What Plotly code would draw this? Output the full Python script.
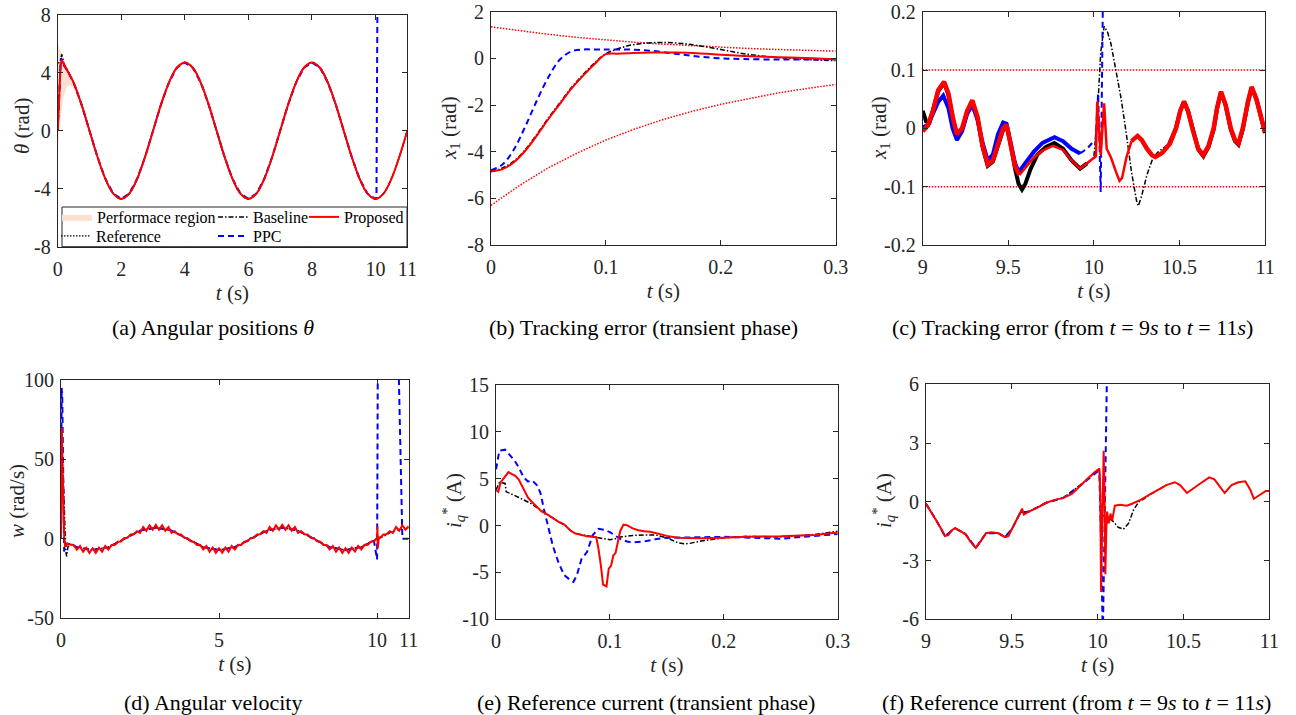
import numpy as np
import plotly.graph_objects as go

W, H = 1296, 715
FONT = "Liberation Serif, Times New Roman, Times, serif"
AXC = "#262626"
RED, BLUE, BLACK = "#ff0000", "#0000ff", "#000000"
FILL = "#fbe0d2"
DASH_BASE = "5px,2px,1.5px,2px"
DASH_PPC = "6px,4px"
DOT = "1.5px,1.5px"

# ---------------- (a) angular position theta (rad) ----------------
theta_main_t = [0.5 + 0.25 * i for i in range(43)]
theta_main = [3.32, 1.80, 0.00, -1.80, -3.32, -4.34, -4.70, -4.34, -3.32, -1.80,
              0.00, 1.80, 3.32, 4.34, 4.70, 4.34, 3.32, 1.80, 0.00, -1.80,
              -3.32, -4.34, -4.70, -4.34, -3.32, -1.80, 0.00, 1.80, 3.32, 4.34,
              4.70, 4.34, 3.32, 1.80, 0.00, -1.80, -3.32, -4.34, -4.70, -4.34,
              -3.32, -1.80, 0.00]
ref_a_t0 = [0, 0.1, 0.2, 0.3]
ref_a_0 = [4.70, 4.64, 4.47, 4.19]
early_a_t = [0, 0.05, 0.1, 0.13, 0.2, 0.3]
prop_a_0 = [0, 2.4, 4.6, 4.85, 4.55, 4.15]
base_a_0 = [0, 2.6, 4.9, 5.25, 4.6, 4.18]
ppc_a_0 = [0, 3.0, 5.0, 4.85, 4.5, 4.15]
ppc_a_end_t = [10.03, 10.06]
ppc_a_end = [-4.6, 9.0]
band_t = [0, 0.05, 0.1, 0.15, 0.2, 0.3, 0.4, 0.5, 0.7, 1.0]
band_hi = [6.05, 5.71, 5.43, 5.18, 4.95, 4.49, 4.02, 3.49, 2.25, 0.10]
band_lo = [-1.60, 0.00, 1.14, 1.95, 2.50, 3.07, 3.14, 2.91, 1.94, -0.12]

# ---------------- (b) tracking error, transient ----------------
bound_t = [0, 0.025, 0.05, 0.075, 0.1, 0.125, 0.15, 0.175, 0.2, 0.225, 0.25, 0.275, 0.3]
bound_hi = [1.35, 1.18, 1.03, 0.90, 0.79, 0.69, 0.61, 0.54, 0.48, 0.42, 0.38, 0.34, 0.31]
bound_lo = [-6.30, -5.44, -4.69, -4.06, -3.50, -3.03, -2.62, -2.27, -1.97, -1.71, -1.48, -1.29, -1.12]
prop_b_t = [0, 0.01, 0.02, 0.03, 0.04, 0.05, 0.06, 0.07, 0.08, 0.09,
            0.1, 0.11, 0.12, 0.14, 0.16, 0.18, 0.2, 0.22, 0.25, 0.28, 0.3]
prop_b = [-4.85, -4.75, -4.45, -3.95, -3.3, -2.6, -1.95, -1.3, -0.75, -0.25,
          0.18, 0.2, 0.22, 0.25, 0.25, 0.22, 0.15, 0.1, 0.05, 0.0, -0.05]
base_b_t = [0, 0.01, 0.02, 0.03, 0.04, 0.05, 0.06, 0.07, 0.08, 0.09,
            0.1, 0.11, 0.12, 0.13, 0.14, 0.15, 0.16, 0.17, 0.18, 0.2,
            0.22, 0.24, 0.26, 0.28, 0.3]
base_b = [-4.85, -4.7, -4.4, -3.9, -3.25, -2.55, -1.9, -1.25, -0.7, -0.2,
          0.2, 0.4, 0.55, 0.63, 0.67, 0.68, 0.66, 0.62, 0.55, 0.38,
          0.2, 0.08, 0.0, -0.06, -0.1]
ppc_b_t = [0, 0.01, 0.02, 0.03, 0.04, 0.05, 0.06, 0.07, 0.08, 0.09,
           0.1, 0.12, 0.14, 0.16, 0.18, 0.2, 0.22, 0.25, 0.28, 0.3]
ppc_b = [-4.8, -4.55, -3.9, -2.9, -1.8, -0.8, -0.05, 0.3, 0.38, 0.38,
         0.38, 0.38, 0.32, 0.2, 0.08, 0.0, -0.03, -0.05, -0.05, -0.05]

# ---------------- (c) tracking error 9..11 s ----------------
bound_c_t = [9, 11]
bound_c_hi = [0.1, 0.1]
bound_c_lo = [-0.1, -0.1]
prop_c_t = [9.0, 9.03, 9.06, 9.09, 9.125, 9.15, 9.175, 9.2, 9.23, 9.26,
            9.29, 9.32, 9.35, 9.38, 9.41, 9.44, 9.47, 9.49, 9.51, 9.54,
            9.565, 9.6, 9.65, 9.7, 9.76, 9.82, 9.87, 9.92, 9.96, 10.0,
            10.012, 10.02, 10.03, 10.04, 10.05, 10.06, 10.075, 10.1, 10.13, 10.15,
            10.165, 10.19, 10.22, 10.255, 10.28, 10.31, 10.34, 10.36, 10.4, 10.445,
            10.48, 10.505, 10.527, 10.55, 10.58, 10.61, 10.64, 10.67, 10.7, 10.72,
            10.743, 10.77, 10.8, 10.825, 10.845, 10.87, 10.9, 10.922, 10.95, 10.98,
            11.0]
prop_c = [-0.005, 0.005, 0.03, 0.065, 0.08, 0.06, 0.02, -0.01, 0.0, 0.03,
          0.048, 0.02, -0.03, -0.062, -0.055, -0.025, 0.0, 0.006, -0.02, -0.065,
          -0.08, -0.068, -0.05, -0.038, -0.03, -0.037, -0.055, -0.069, -0.06, -0.05,
          -0.048, 0.046, 0.0, -0.046, 0.0, 0.043, -0.035, -0.05, -0.075, -0.09,
          -0.085, -0.05, -0.022, -0.013, -0.02, -0.035, -0.046, -0.049, -0.042, -0.026,
          0.0, 0.03, 0.046, 0.03, -0.005, -0.035, -0.046, -0.03, 0.0, 0.035,
          0.063, 0.04, 0.0, -0.02, -0.026, 0.0, 0.045, 0.071, 0.05, 0.015,
          -0.006]
base_c_t = [9.0, 9.02, 9.04, 9.06, 9.09, 9.125, 9.15, 9.175, 9.2, 9.23,
            9.26, 9.29, 9.32, 9.35, 9.38, 9.41, 9.44, 9.47, 9.49, 9.51,
            9.54, 9.56, 9.58, 9.6, 9.63, 9.67, 9.72, 9.77, 9.82, 9.87,
            9.92, 9.96, 10.0, 10.02, 10.04, 10.06, 10.08, 10.1, 10.13, 10.16,
            10.19, 10.22, 10.25, 10.26, 10.28, 10.31, 10.34, 10.37, 10.4, 10.44,
            10.48, 10.505, 10.527, 10.55, 10.58, 10.61, 10.64, 10.67, 10.7, 10.72,
            10.743, 10.77, 10.8, 10.825, 10.845, 10.87, 10.9, 10.922, 10.95, 10.98,
            11.0]
base_c = [0.03, 0.012, 0.01, 0.03, 0.063, 0.078, 0.058, 0.018, -0.012, -0.002,
          0.028, 0.046, 0.018, -0.032, -0.064, -0.057, -0.027, -0.002, 0.004, -0.022,
          -0.07, -0.095, -0.105, -0.095, -0.07, -0.045, -0.032, -0.025, -0.035, -0.055,
          -0.069, -0.06, -0.05, 0.02, 0.13, 0.175, 0.165, 0.145, 0.1, 0.05,
          -0.01, -0.075, -0.125, -0.133, -0.115, -0.08, -0.055, -0.042, -0.035, -0.027,
          0.0, 0.03, 0.046, 0.03, -0.005, -0.036, -0.048, -0.032, -0.002, 0.034,
          0.062, 0.04, -0.002, -0.022, -0.028, -0.002, 0.044, 0.07, 0.05, 0.014,
          -0.008]
ppc_c_t = [9.0, 9.03, 9.06, 9.09, 9.12, 9.15, 9.175, 9.2, 9.23, 9.26,
           9.29, 9.32, 9.35, 9.38, 9.41, 9.44, 9.47, 9.49, 9.51, 9.54,
           9.56, 9.6, 9.65, 9.7, 9.77, 9.82, 9.87, 9.92, 9.96, 9.99,
           10.01, 10.025, 10.04, 10.056]
ppc_c = [0.002, 0.005, 0.025, 0.045, 0.056, 0.035, 0.0, -0.02, -0.005, 0.025,
         0.04, 0.015, -0.025, -0.055, -0.045, -0.01, 0.01, 0.008, -0.02, -0.06,
         -0.075, -0.06, -0.04, -0.025, -0.015, -0.022, -0.035, -0.043, -0.035, -0.025,
         -0.02, 0.06, -0.109, 0.3]

# ---------------- (d) angular velocity w (rad/s) ----------------
prop_w_t0 = [0, 0.01, 0.02, 0.03, 0.05, 0.07, 0.1, 0.13, 0.16, 0.2, 0.3]
prop_w0 = [0, 45, 70, 66, 45, 20, 2, -5, -4, -3, -3.5]
prop_w_mid_t = [round(0.4 + 0.1 * i, 2) for i in range(96)]
prop_w_mid = [-3.84, -6.72, -4.47, -8.08, -5.52, -8.79, -5.88, -8.79, -5.52, -8.08,
              -4.47, -6.72, -3.84, -3.85, -1.78, -1.65, 0.5, 0.65, 2.78, 2.85,
              4.84, 3.72, 7.47, 5.08, 8.52, 5.79, 8.88, 5.79, 8.52, 5.08,
              7.47, 3.72, 4.84, 2.85, 2.78, 0.65, 0.4, -1.6, -1.8, -3.9,
              -3.8, -6.7, -4.5, -8.1, -5.5, -8.8, -5.9, -8.7, -5.5, -8.1,
              -4.5, -6.7, -3.8, -3.9, -1.8, -1.6, 0.5, 0.7, 2.8, 2.9,
              4.8, 3.7, 7.5, 5.1, 8.5, 5.8, 8.9, 5.8, 8.5, 5.1,
              7.4, 3.7, 4.8, 2.9, 2.8, 0.7, 0.5, -1.6, -1.8, -3.8,
              -3.9, -6.7, -4.5, -8.1, -5.5, -8.8, -5.9, -8.8, -5.5, -8.0,
              -4.5, -6.7, -3.8, -3.9, -1.8, -1.6]
prop_w_tail_t = [10.0, 10.01, 10.02, 10.03, 10.04, 10.06, 10.1, 10.2, 10.3, 10.4,
                 10.5, 10.6, 10.7, 10.8, 10.9, 11.0]
prop_w_tail = [0.5, 8.0, -6.0, 5.0, -2.0, 1.0, 0.7, 2.8, 2.9, 4.8,
               3.7, 7.5, 5.1, 8.5, 5.8, 8.0]
base_w_t = [0, 0.01, 0.03, 0.06, 0.1, 0.15, 0.18, 0.22, 0.3, 0.5,
            1.0, 1.5, 2.0, 2.5, 3.0, 3.5, 4.0, 4.5, 5.0, 5.5,
            6.0, 6.5, 7.0, 7.5, 8.0, 8.5, 9.0, 9.5, 10.0, 10.2,
            10.5, 11.0]
base_w = [0, 30, 52, 45, 15, -8, -11, -5, -3.5, -5.2,
          -7.0, -5.2, 0, 5.2, 7.0, 5.2, 0, -5.2, -7.0, -5.2,
          0, 5.2, 7.0, 5.2, 0, -5.2, -7.0, -5.2, 0.3, 1.5,
          5.0, 7.0]
ppc_w_t = [0, 0.01, 0.02, 0.04, 0.07, 0.1, 0.13, 0.2, 0.3, 0.5,
           1.0, 1.5, 2.0, 2.5, 3.0, 3.5, 4.0, 4.5, 5.0, 5.5,
           6.0, 6.5, 7.0, 7.5, 8.0, 8.5, 9.0, 9.5, 9.9, 10.0,
           10.03, 10.69, 10.8, 11.0]
ppc_w = [0, 60, 95, 90, 40, -8, -5, -3, -3.5, -5.2,
         -7.0, -5.2, 0, 5.2, 7.0, 5.2, 0, -5.2, -7.0, -5.2,
         0, 5.2, 7.0, 5.2, 0, -5.2, -7.0, -5.2, -1.2, -13,
         150, 100, 0, 0]

# ---------------- (e) reference current, transient ----------------
prop_e_t = [0, 0.002, 0.004, 0.006, 0.008, 0.011, 0.014, 0.017, 0.02, 0.022,
            0.025, 0.028, 0.031, 0.034, 0.037, 0.04, 0.045, 0.05, 0.055, 0.06,
            0.063, 0.066, 0.07, 0.075, 0.08, 0.088, 0.09, 0.092, 0.094, 0.097,
            0.099, 0.101, 0.103, 0.105, 0.107, 0.109, 0.112, 0.115, 0.12, 0.125,
            0.13, 0.135, 0.14, 0.15, 0.16, 0.18, 0.2, 0.22, 0.25, 0.28,
            0.3]
prop_e = [3.8, 3.6, 4.6, 4.9, 5.3, 5.7, 5.5, 5.3, 4.9, 4.4,
          3.6, 3.0, 2.6, 2.2, 1.8, 1.5, 1.2, 0.8, 0.4, 0.1,
          -0.3, -0.6, -0.85, -1.0, -1.15, -1.25, -2.5, -4.2, -6.3, -6.5,
          -4.6, -4.3, -3.2, -2.9, -1.6, -0.6, 0.1, 0.05, -0.3, -0.5,
          -0.6, -0.65, -0.8, -1.1, -1.3, -1.35, -1.3, -1.2, -1.15, -1.0,
          -0.75]
base_e_t = [0, 0.003, 0.008, 0.009, 0.013, 0.017, 0.02, 0.025, 0.03, 0.035,
            0.04, 0.045, 0.05, 0.055, 0.06, 0.065, 0.07, 0.08, 0.09, 0.1,
            0.105, 0.11, 0.12, 0.13, 0.14, 0.15, 0.16, 0.165, 0.17, 0.18,
            0.2, 0.22, 0.25, 0.28, 0.3]
base_e = [3.8, 4.6, 4.5, 3.6, 3.4, 3.2, 3.0, 2.7, 2.4, 2.0,
          1.6, 1.2, 0.8, 0.4, 0.1, -0.5, -0.85, -1.1, -1.3, -1.5,
          -1.4, -1.2, -1.05, -1.0, -1.0, -1.3, -1.85, -1.95, -1.9, -1.65,
          -1.3, -1.15, -1.2, -0.95, -0.6]
ppc_e_t = [0, 0.003, 0.008, 0.012, 0.016, 0.02, 0.024, 0.028, 0.032, 0.036,
           0.039, 0.042, 0.045, 0.05, 0.055, 0.06, 0.065, 0.068, 0.071, 0.075,
           0.08, 0.085, 0.09, 0.095, 0.1, 0.105, 0.11, 0.115, 0.12, 0.13,
           0.14, 0.15, 0.2, 0.25, 0.3]
ppc_e = [6.0, 8.0, 8.1, 7.6, 7.0, 6.2, 5.2, 4.7, 4.8, 4.3,
         3.5, 1.8, 0.3, -2.2, -4.0, -5.3, -5.8, -6.0, -5.3, -3.6,
         -2.8, -1.0, -0.35, -0.45, -0.7, -1.1, -1.5, -1.7, -1.8, -1.7,
         -1.45, -1.3, -1.2, -1.4, -0.9]

# ---------------- (f) reference current 9..11 s ----------------
prop_f_t = [9.0, 9.03, 9.06, 9.09, 9.11, 9.13, 9.15, 9.17, 9.2, 9.23,
            9.26, 9.29, 9.32, 9.35, 9.38, 9.42, 9.46, 9.48, 9.5, 9.53,
            9.555, 9.56, 9.57, 9.6, 9.65, 9.7, 9.75, 9.8, 9.85, 9.9,
            9.95, 9.98, 10.01, 10.015, 10.02, 10.027, 10.035, 10.04, 10.045, 10.05,
            10.055, 10.065, 10.075, 10.085, 10.1, 10.13, 10.17, 10.2, 10.25, 10.3,
            10.35, 10.4, 10.45, 10.48, 10.52, 10.55, 10.6, 10.65, 10.68, 10.71,
            10.74, 10.78, 10.82, 10.86, 10.89, 10.91, 10.95, 10.98, 11.0]
prop_f = [-0.1, -0.5, -0.95, -1.4, -1.75, -1.7, -1.45, -1.35, -1.5, -1.65,
          -2.05, -2.35, -2.0, -1.6, -1.55, -1.6, -1.8, -1.75, -1.4, -0.9,
          -0.5, -0.35, -0.65, -0.5, -0.3, -0.05, 0.1, 0.2, 0.4, 0.85,
          1.25, 1.5, 1.7, 0.5, -4.6, -1.0, 2.6, 0.5, -3.7, -1.5,
          -0.5, -1.1, -0.6, -0.95, -0.2, -0.15, -0.2, -0.1, 0.1, 0.35,
          0.6, 0.85, 1.0, 0.85, 0.45, 0.65, 0.95, 1.25, 1.15, 0.8,
          0.45, 0.85, 1.0, 1.05, 0.6, 0.15, 0.4, 0.55, 0.55]
base_f_t = [9.0, 9.06, 9.11, 9.17, 9.23, 9.29, 9.35, 9.42, 9.46, 9.5,
            9.55, 9.6, 9.7, 9.8, 9.9, 10.0, 10.01, 10.02, 10.03, 10.06,
            10.09, 10.12, 10.15, 10.18, 10.21, 10.24, 10.27, 10.3, 10.35, 10.4]
base_f = [-0.1, -0.95, -1.75, -1.35, -1.65, -2.35, -1.6, -1.6, -1.8, -1.4,
          -0.55, -0.5, -0.05, 0.2, 0.85, 1.6, 1.7, -0.5, -0.7, -0.8,
          -1.0, -1.3, -1.4, -1.1, -0.4, 0.0, 0.15, 0.35, 0.6, 0.85]
ppc_f_t = [9.0, 9.06, 9.11, 9.17, 9.23, 9.29, 9.35, 9.42, 9.46, 9.5,
           9.55, 9.6, 9.7, 9.8, 9.9, 10.0, 10.01, 10.02, 10.03, 10.055,
           10.06]
ppc_f = [-0.1, -0.95, -1.75, -1.35, -1.65, -2.35, -1.6, -1.6, -1.8, -1.4,
         -0.55, -0.5, -0.05, 0.2, 0.85, 1.55, 1.4, -2.0, -7.0, 7.0,
         20.0]

# ---------------- axis ticks and texts ----------------
ticks = {
    1: dict(x=[0, 2, 4, 6, 8, 10, 11], y=[-8, -4, 0, 4, 8], xr=[0, 11], yr=[-8, 8]),
    2: dict(x=[0, 0.1, 0.2, 0.3], y=[-8, -6, -4, -2, 0, 2], xr=[0, 0.3], yr=[-8, 2]),
    3: dict(x=[9, 9.5, 10, 10.5, 11], y=[-0.2, -0.1, 0, 0.1, 0.2], xr=[9, 11], yr=[-0.2, 0.2]),
    4: dict(x=[0, 5, 10, 11], y=[-50, 0, 50, 100], xr=[0, 11], yr=[-50, 100]),
    5: dict(x=[0, 0.1, 0.2, 0.3], y=[-10, -5, 0, 5, 10, 15], xr=[0, 0.3], yr=[-10, 15]),
    6: dict(x=[9, 9.5, 10, 10.5, 11], y=[-6, -3, 0, 3, 6], xr=[9, 11], yr=[-6, 6]),
}
ytitles = {1: "<i>θ</i> (rad)", 2: "<i>x</i><sub>1</sub> (rad)", 3: "<i>x</i><sub>1</sub> (rad)",
           4: "<i>w</i> (rad/s)", 5: "<i>i</i><sub><i>q</i></sub><sup>*</sup> (A)",
           6: "<i>i</i><sub><i>q</i></sub><sup>*</sup> (A)"}
xtitle = "<i>t</i> (s)"
captions = {1: "(a) Angular positions <i>θ</i>",
            2: "(b) Tracking error (transient phase)",
            3: "(c) Tracking error (from <i>t</i> = 9<i>s</i> to <i>t</i> = 11<i>s</i>)",
            4: "(d) Angular velocity",
            5: "(e) Reference current (transient phase)",
            6: "(f) Reference current (from <i>t</i> = 9<i>s</i> to <i>t</i> = 11<i>s</i>)"}

# panel boxes in pixels: left, right, top, bottom
boxes = {1: (57.7, 407.3, 14.7, 246.7), 2: (491, 835.7, 11.7, 245), 3: (922.7, 1265, 11.7, 245),
         4: (61, 408.7, 380, 618.3), 5: (496, 837.7, 385, 619.3), 6: (926, 1269.3, 384.3, 619.3)}
cap_pos = {1: (213, 327), 2: (643, 327), 3: (1072, 327), 4: (213, 702), 5: (646, 702), 6: (1076, 702)}
ytitle_pos = {1: (22, 126), 2: (450, 128), 3: (880, 128), 4: (17, 501), 5: (453, 501), 6: (883, 501)}


def fmt(v):
    return "%g" % v


fig = go.Figure()


def line(i, x, y, color, width=2, dash="solid", name=None, legend=None, shape="linear"):
    sfx = "" if i == 1 else str(i)
    fig.add_trace(go.Scatter(x=x, y=y, mode="lines", xaxis="x" + sfx, yaxis="y" + sfx,
                             line=dict(color=color, width=width, dash=dash, shape=shape),
                             name=name, showlegend=legend is not None, legend=legend or "legend",
                             hoverinfo="skip"))


# (a)
fig.add_trace(go.Scatter(x=band_t + band_t[::-1], y=band_hi + band_lo[::-1], fill="toself",
                         fillcolor=FILL, line=dict(width=0), mode="lines", name="Performace region",
                         legend="legend", showlegend=True, xaxis="x", yaxis="y", hoverinfo="skip"))
line(1, ref_a_t0 + theta_main_t, ref_a_0 + theta_main, BLACK, 1.2, DOT, "Reference", "legend4", "spline")
line(1, early_a_t + theta_main_t, base_a_0 + theta_main, BLACK, 1.5, DASH_BASE, "Baseline", "legend2", "spline")
line(1, early_a_t + theta_main_t[:39] + ppc_a_end_t, ppc_a_0 + theta_main[:39] + ppc_a_end,
     BLUE, 2, DASH_PPC, "PPC", "legend5", "linear")
line(1, early_a_t + theta_main_t, prop_a_0 + theta_main, RED, 2, "solid", "Proposed", "legend3", "spline")

# (b)
line(2, bound_t, bound_hi, RED, 1.5, DOT)
line(2, bound_t, bound_lo, RED, 1.5, DOT)
line(2, base_b_t, base_b, BLACK, 1.5, DASH_BASE, shape="spline")
line(2, ppc_b_t, ppc_b, BLUE, 2, DASH_PPC, shape="spline")
line(2, prop_b_t, prop_b, RED, 2, shape="spline")

# (c)
line(3, bound_c_t, bound_c_hi, RED, 1.5, DOT)
line(3, bound_c_t, bound_c_lo, RED, 1.5, DOT)
bt, bv = np.array(base_c_t), np.array(base_c)
m1, m2, m3 = bt <= 9.965, (bt >= 9.96) & (bt <= 10.44), bt >= 10.44
line(3, bt[m1], bv[m1], BLACK, 4)
line(3, bt[m2], bv[m2], BLACK, 1.5, DASH_BASE)
line(3, bt[m3], bv[m3], BLACK, 4)
pt, pv = np.array(ppc_c_t), np.array(ppc_c)
m1, m2 = pt <= 9.92, pt >= 9.92
line(3, pt[m1], pv[m1], BLUE, 4)
line(3, pt[m2], pv[m2], BLUE, 2, DASH_PPC)
rt, rv = np.array(prop_c_t), np.array(prop_c)
m1, m2, m3 = rt <= 9.565, (rt >= 9.565) & (rt <= 10.22), rt >= 10.22
line(3, rt[m1], rv[m1], RED, 4.5)
line(3, rt[m2], rv[m2], RED, 2.5)
line(3, rt[m3], rv[m3], RED, 4.5)

# (d)
line(4, base_w_t, base_w, BLACK, 1.5, DASH_BASE)
line(4, ppc_w_t, ppc_w, BLUE, 2, DASH_PPC)
line(4, prop_w_t0 + prop_w_mid_t + prop_w_tail_t, prop_w0 + prop_w_mid + prop_w_tail, RED, 2)

# (e)
line(5, base_e_t, base_e, BLACK, 1.5, DASH_BASE)
line(5, ppc_e_t, ppc_e, BLUE, 2, DASH_PPC)
line(5, prop_e_t, prop_e, RED, 2)

# (f)
line(6, base_f_t, base_f, BLACK, 1.5, DASH_BASE)
line(6, ppc_f_t, ppc_f, BLUE, 2, DASH_PPC)
line(6, prop_f_t, prop_f, RED, 2)

layout = dict(width=W, height=H, margin=dict(l=0, r=0, t=0, b=0), plot_bgcolor="white",
              paper_bgcolor="white", hovermode=False, showlegend=True)
tf = dict(family=FONT, size=20, color=AXC)
titlef = dict(family=FONT, size=21, color=AXC)
common = dict(showline=True, linecolor=AXC, linewidth=1, mirror="ticks", ticks="inside", ticklen=5,
              tickwidth=1, tickcolor=AXC, showgrid=False, zeroline=False, tickfont=tf,
              fixedrange=True, automargin=False, tickmode="array")
annotations = []
for i, (l, r, t, b) in boxes.items():
    sfx = "" if i == 1 else str(i)
    tk = ticks[i]
    layout["xaxis" + sfx] = dict(common, domain=[l / W, r / W], anchor="y" + sfx, range=tk["xr"],
                                 tickvals=tk["x"], ticktext=[fmt(v) for v in tk["x"]],
                                 ticklabelstandoff=4,
                                 title=dict(text=xtitle, font=titlef, standoff=6))
    layout["yaxis" + sfx] = dict(common, domain=[1 - b / H, 1 - t / H], anchor="x" + sfx, range=tk["yr"],
                                 tickvals=tk["y"], ticktext=[fmt(v) for v in tk["y"]],
                                 ticklabelstandoff=2)
    yx, yy = ytitle_pos[i]
    annotations.append(dict(text=ytitles[i], x=yx / W, y=1 - yy / H, xref="paper", yref="paper",
                            xanchor="center", yanchor="middle", textangle=-90, showarrow=False,
                            font=titlef))
    cx, cy = cap_pos[i]
    annotations.append(dict(text=captions[i], x=cx / W, y=1 - cy / H, xref="paper", yref="paper",
                            xanchor="center", yanchor="middle", showarrow=False,
                            font=dict(family=FONT, size=22, color="black")))
layout["annotations"] = annotations

# legend box (drawn over the lines, as in the original)
layout["shapes"] = [dict(type="rect", xref="paper", yref="paper", x0=62 / W, x1=407 / W,
                         y0=1 - 246.7 / H, y1=1 - 207 / H, line=dict(color=AXC, width=1),
                         fillcolor="white", layer="above")]

leg_font = dict(family=FONT, size=16, color="black")
leg_pos = {"legend": (62, 217), "legend2": (218, 217), "legend3": (309, 217),
           "legend4": (61, 236), "legend5": (218, 236)}
for key, (sx, sy) in leg_pos.items():
    layout[key] = dict(x=(sx - 5) / W, y=1 - sy / H, xanchor="left", yanchor="middle",
                       bgcolor="rgba(0,0,0,0)", borderwidth=0, font=leg_font,
                       orientation="h", itemwidth=30, tracegroupgap=0)

fig.update_layout(**layout)
fig.write_html("out.html", include_plotlyjs=True, config={"displayModeBar": False})
